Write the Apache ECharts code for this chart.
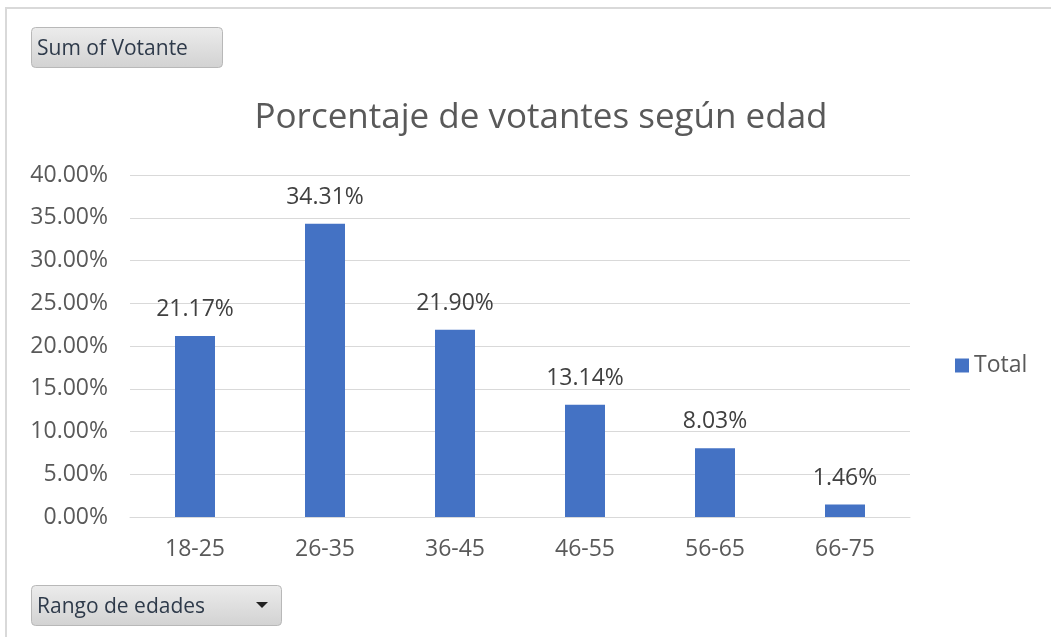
<!DOCTYPE html>
<html>
<head>
<meta charset="utf-8">
<script src="https://cdn.jsdelivr.net/npm/echarts@6/dist/echarts.min.js"></script>
<style>
html,body{margin:0;padding:0;background:#fff;}
#chart{width:1051px;height:637px;}
</style>
</head>
<body>
<div id="chart"></div>
<script>
var categories = ['18-25', '26-35', '36-45', '46-55', '56-65', '66-75'];
var totalValues = [21.17, 34.31, 21.90, 13.14, 8.03, 1.46];
var seriesName = 'Total';
var titleText = 'Porcentaje de votantes según edad';
var valueButtonText = 'Sum of Votante';
var axisButtonText = 'Rango de edades';

var FONT = '"Open Sans", "Noto Sans", sans-serif';
var chart = echarts.init(document.getElementById('chart'));
var btnFill = new echarts.graphic.LinearGradient(0, 0, 0, 1, [
  {offset: 0, color: '#ececec'}, {offset: 1, color: '#d2d2d2'}
]);
chart.setOption({
  animation: false,
  backgroundColor: '#fff',
  title: {
    text: titleText,
    left: 536, top: 96, textAlign: 'center',
    textStyle: {fontFamily: FONT, fontSize: 35, fontWeight: 'normal', color: '#595959'}
  },
  legend: {
    data: [seriesName],
    left: 950, top: 349,
    itemWidth: 14, itemHeight: 14, itemGap: 6,
    icon: 'rect',
    textStyle: {fontFamily: FONT, fontSize: 23, color: '#595959'}
  },
  grid: {left: 130, right: 141, top: 175, bottom: 120, containLabel: false},
  xAxis: {
    type: 'category',
    data: categories,
    axisLine: {lineStyle: {color: '#d9d9d9', width: 1}},
    axisTick: {show: false},
    axisLabel: {fontFamily: FONT, fontSize: 23, color: '#595959', margin: 21}
  },
  yAxis: {
    type: 'value',
    min: 0, max: 40, interval: 5,
    axisLine: {show: false},
    axisTick: {show: false},
    splitLine: {lineStyle: {color: '#d9d9d9', width: 1}},
    axisLabel: {
      fontFamily: FONT, fontSize: 23, color: '#595959', margin: 22,
      formatter: function (v) { return v.toFixed(2) + '%'; }
    }
  },
  series: [{
    name: seriesName,
    type: 'bar',
    data: totalValues,
    barWidth: 40,
    itemStyle: {color: '#4472C4'},
    label: {
      show: true, position: 'top', distance: 15,
      fontFamily: FONT, fontSize: 23, color: '#404040',
      formatter: function (p) { return p.value.toFixed(2) + '%'; }
    }
  }],
  graphic: [
    {type: 'rect', shape: {x: 0, y: 0, width: 1051, height: 8}, style: {fill: '#fff'}, silent: true},
    {type: 'line', shape: {x1: 5, y1: 8, x2: 1051, y2: 8}, style: {stroke: '#d9d9d9', lineWidth: 2}},
    {type: 'line', shape: {x1: 6, y1: 8, x2: 6, y2: 637}, style: {stroke: '#d9d9d9', lineWidth: 2}},
    {type: 'rect', shape: {x: 31.5, y: 27.5, width: 191, height: 40, r: 4},
      style: {fill: btnFill, stroke: '#b8b8b8', lineWidth: 1}},
    {type: 'text', left: 37, top: 39,
      style: {text: valueButtonText, fontFamily: FONT, fontSize: 21, fill: '#2e3a4a'}},
    {type: 'rect', shape: {x: 31.5, y: 585.5, width: 250, height: 40, r: 4},
      style: {fill: btnFill, stroke: '#b8b8b8', lineWidth: 1}},
    {type: 'text', left: 37, top: 597,
      style: {text: axisButtonText, fontFamily: FONT, fontSize: 21, fill: '#2e3a4a'}},
    {type: 'polygon', shape: {points: [[256, 602], [268, 602], [262, 608]]}, style: {fill: '#222'}}
  ]
});
</script>
</body>
</html>
